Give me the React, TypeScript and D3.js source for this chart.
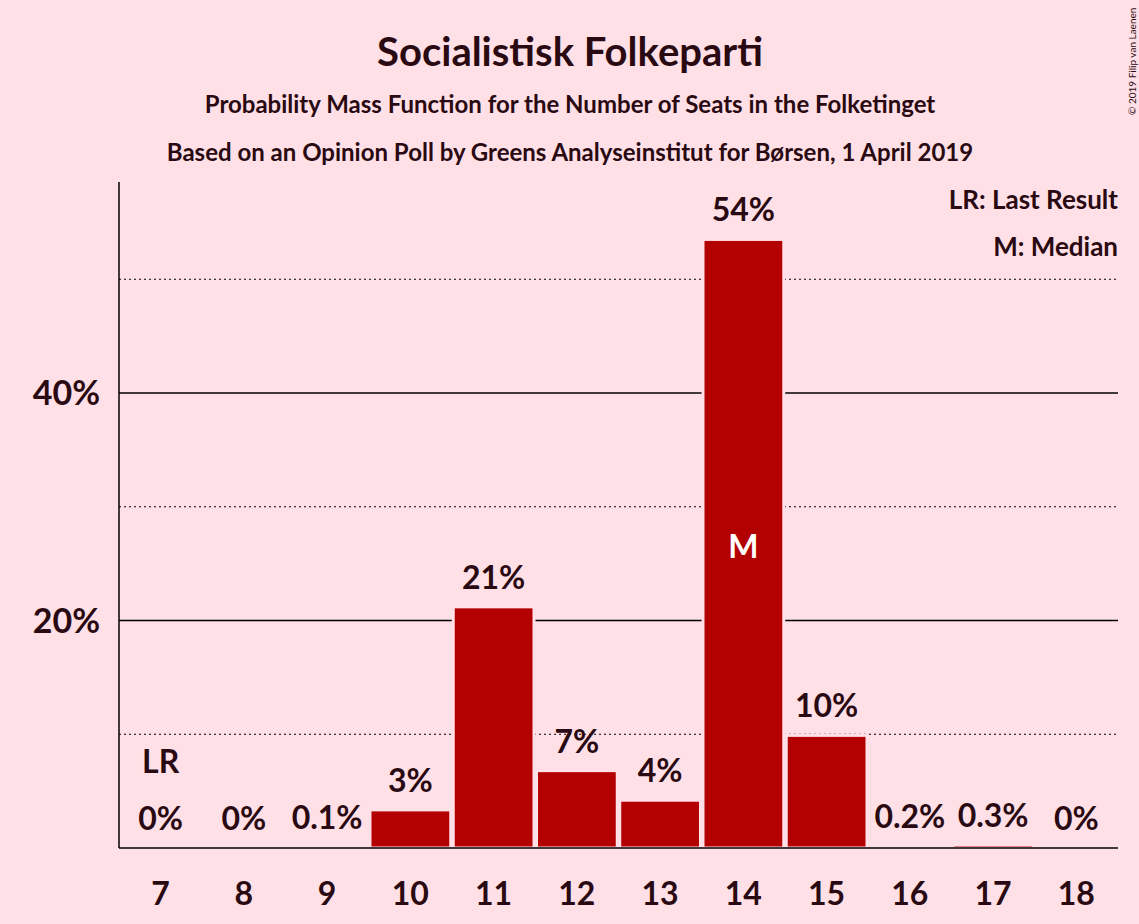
import * as d3 from "d3";

const seats = ["7", "8", "9", "10", "11", "12", "13", "14", "15", "16", "17", "18"];
const probs = [0, 0, 0.1, 3.35, 21.2, 6.8, 4.2, 53.5, 9.9, 0.2, 0.3, 0];
const labels = ["0%", "0%", "0.1%", "3%", "21%", "7%", "4%", "54%", "10%", "0.2%", "0.3%", "0%"];
const solidTicks = [20, 40];
const dottedTicks = [10, 30, 50];
const lastResult = "7";
const median = "14";

export default function App() {
  const width = 1139;
  const height = 924;
  const bg = "#FFE0E6";
  const font = "Lato, sans-serif";
  const x = d3.scaleBand().domain(seats).range([119, 1118]).paddingInner(0.03).paddingOuter(0.015);
  const y = d3.scaleLinear().domain([0, 40]).range([848, 393]);

  return (
    <svg width={width} height={height} style={{ position: "absolute", left: 0, top: 0 }} fontFamily={font} fontWeight="bold">
      <rect width={width} height={height} fill={bg} />
      <text x={570} y={66} textAnchor="middle" fontSize={40} fill="#2a0a12">Socialistisk Folkeparti</text>
      <text x={570} y={113} textAnchor="middle" fontSize={24} fill="#2a0a12">Probability Mass Function for the Number of Seats in the Folketinget</text>
      <text x={570} y={161} textAnchor="middle" fontSize={24} fill="#2a0a12">Based on an Opinion Poll by Greens Analyseinstitut for Børsen, 1 April 2019</text>
      <text transform="translate(1136,115) rotate(-90)" fontSize={10} fontWeight="normal" fill="#2a0a12">© 2019 Filip van Laenen</text>

      {dottedTicks.map((t) => (
        <line key={t} x1={119} x2={1118} y1={y(t)} y2={y(t)} stroke="#000" strokeWidth={1} strokeDasharray="2 3" />
      ))}
      {solidTicks.map((t) => (
        <g key={t}>
          <line x1={119} x2={1118} y1={y(t)} y2={y(t)} stroke="#000" strokeWidth={1.5} />
          <text x={100} y={y(t) + 12} textAnchor="end" fontSize={34} fill="#2a0a12">{t}%</text>
        </g>
      ))}

      {seats.map((s, i) => (
        <g key={s}>
          {probs[i] > 0 && (
            <rect x={x(s)} y={y(probs[i])} width={x.bandwidth()} height={848 - y(probs[i])} fill="#B30000" stroke={bg} strokeWidth={3} />
          )}
          <text x={(x(s) ?? 0) + x.bandwidth() / 2} y={y(probs[i]) - 18} textAnchor="middle" fontSize={32} fill="#2a0a12">{labels[i]}</text>
          <text x={(x(s) ?? 0) + x.bandwidth() / 2} y={905} textAnchor="middle" fontSize={32} fill="#2a0a12">{s}</text>
        </g>
      ))}

      <text x={(x(lastResult) ?? 0) + x.bandwidth() / 2} y={773} textAnchor="middle" fontSize={32} fill="#2a0a12">LR</text>
      <text x={(x(median) ?? 0) + x.bandwidth() / 2} y={558} textAnchor="middle" fontSize={32} fill="#fff">M</text>

      <line x1={119} x2={119} y1={182} y2={848} stroke="#000" strokeWidth={1.5} />
      <line x1={119} x2={1118} y1={848} y2={848} stroke="#000" strokeWidth={1.5} />

      <text x={1118} y={209} textAnchor="end" fontSize={26} fill="#2a0a12">LR: Last Result</text>
      <text x={1118} y={256} textAnchor="end" fontSize={26} fill="#2a0a12">M: Median</text>
    </svg>
  );
}
